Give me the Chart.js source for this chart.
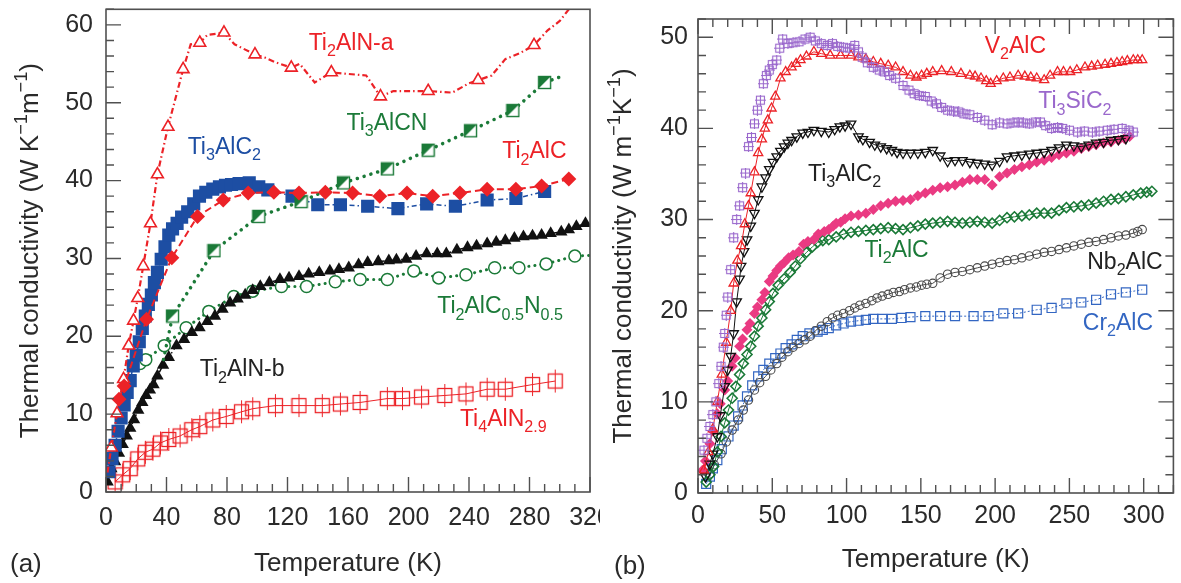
<!DOCTYPE html>
<html><head><meta charset="utf-8">
<script src="https://cdn.jsdelivr.net/npm/chart.js@4.4.0/dist/chart.umd.min.js"></script>
<style>
html,body{margin:0;padding:0;background:#fff;width:1181px;height:583px;overflow:hidden}
#ca{position:absolute;left:0;top:0}
#cb{position:absolute;left:600px;top:0}
</style></head><body>
<canvas id="ca" width="600" height="583"></canvas>
<canvas id="cb" width="581" height="583"></canvas>
<script>
// ---------- tick labels ----------
const aXTicks = [0,40,80,120,160,200,240,280,320];
const aYTicks = [0,10,20,30,40,50,60];
const bXTicks = [0,50,100,150,200,250,300];
const bYTicks = [0,10,20,30,40,50];

// ---------- panel (a) data: T (K), k (W/K/m) ----------
const aTi2AlNaT = [3.5,7.3,11.6,15,18.2,21,24.6,29.4,34,41,51,62,78,98.5,122.5,149,181.5,213,246,283];
const aTi2AlNaK = [5.7,10.1,14.5,18.8,22,24.9,29,34.5,40.8,46.9,54.3,57.7,59,56.2,54.5,53.9,50.8,51.5,52.9,57.4];
const aTi2AlNaLineT = [1,3.5,7.3,11.6,15,18.2,21,24.6,29.4,34,41,51,56,62,67,78,85,98.5,105,112,122.5,128,138,149,160,172,181.5,190,213,229,240,246,255,264,274,283,292,300,306];
const aTi2AlNaLineK = [2.5,5.7,10.1,14.5,18.8,22,24.9,29,34.5,40.8,46.9,54.3,57.5,57.7,58.7,59,57.5,56.2,55.8,55.2,54.5,55,52.6,53.9,53.7,53.5,50.8,51.5,51.5,51.3,52.5,52.9,53.5,55.6,56.4,57.4,59.3,60.5,62];

const aTi3AlC2T = [2,4,6,8,10,12,14,16,18,20,22,24,26,28,30,32,34,36.5,39,41.5,44,47,50,54,58,61.8,66,70.6,75,79,83,88,94.7,101,107,123,140,155,173,193,212,231,252,271,290];
const aTi3AlC2K = [2.6,4.3,6,7.8,9.5,11.2,12.8,14.3,16.2,17.6,19.3,21,22.6,24.1,25.3,26.9,28.2,29.9,31.5,33,33.8,34.5,35.3,36,37,38,38.5,38.9,39.2,39.4,39.5,39.6,39.7,39.2,38.8,38,36.9,36.9,36.7,36.4,37,36.7,37.5,37.7,38.6];

const aTi2AlCT = [8.6,12,26.8,43.5,60.5,77.5,94,111,127.6,145,163,181,199,216,234,252,271,288,306];
const aTi2AlCK = [11.9,13.6,22.2,30.1,35.4,37.5,38.4,38.5,38.4,38.5,38.4,38,38.4,38,38.4,38.9,38.9,39.3,40.2];

const aTi3AlCNT = [44,71.4,101,129,157,186,213,241,269,290];
const aTi3AlCNK = [22.6,31,35.4,37.3,39.7,41.5,43.9,46.4,49,52.6];
const aTi3AlCNLineT = [38,44,71.4,101,129,157,186,213,241,269,290,303];
const aTi3AlCNLineK = [17,22.6,31,35.4,37.3,39.7,41.5,43.9,46.4,49,52.6,53.5];

const aTi2AlCNT = [22.5,26.3,38.5,53,68,84.5,97,116,132.6,151.6,168,186,203.5,220,238,257,273,291,310];
const aTi2AlCNK = [16.5,17,18.8,21.1,23.2,25.1,25.8,26.4,26.4,27,27.3,27.3,28.4,27.5,27.9,28.8,28.8,29.3,30.3];
const aTi2AlCNLineT = [20,22.5,26.3,38.5,53,68,84.5,97,116,132.6,151.6,168,186,203.5,220,238,257,273,291,310,320];
const aTi2AlCNLineK = [16,16.5,17,18.8,21.1,23.2,25.1,25.8,26.4,26.4,27,27.3,27.3,28.4,27.5,27.9,28.8,28.8,29.3,30.3,30.4];

const aTi2AlNbT = [1,3.5,6,8.5,11,13.7,16,18.5,21.3,24,26.5,29,31.4,34,37.7,41.5,46.6,51.6,56.7,61.8,67,72,77,82,87,92,97,102,108,115,121,127.6,134,141,148,154,160.5,167,173,180,187,192,198.5,205,212,219,225,232,239,245,252,258,264,270,276,282,288,294,301,306,311,317];
const aTi2AlNbK = [1.3,3,3.9,5,6.1,7.2,8.2,9.3,10.5,11.5,12.4,13.1,13.8,14.9,16.3,17.3,18.8,19.6,20.5,21.1,21.9,22.6,23.5,24.3,24.8,25.3,25.9,26.4,26.9,27.3,27.5,27.7,28,28.2,28.4,28.6,28.8,29.2,29.5,29.6,29.7,29.8,29.9,30.3,30.6,30.6,30.6,31.1,31.4,31.6,31.9,32.1,32.3,32.6,32.8,32.9,33,33.2,33.4,33.7,34.1,34.5];

const aTi4AlNT = [6,11,16,21,26,31,36,41.5,49,56.7,62,70.6,79.5,89.6,97,112,127.6,143,155,168,186,196,208.6,224,238,252,264,282,297];
const aTi4AlNK = [1.3,2.2,3,4.25,5.1,5.5,6.3,6.75,7.2,8,8.4,9.25,9.7,10.3,10.7,11.1,11.1,11.1,11.3,11.5,12,12,12.2,12.4,12.6,13.2,13.2,13.8,14.25];

// ---------- panel (b) data ----------
const bV2AlCT = [4,7,10,13,16,19,22,24,26.5,29,31.5,34,35.5,38,40.5,43,45,47,49.5,52,55.5,59,63,66,69,73,78,83,89,96,103,108,113,118,123,128,133,138,143,147,150.5,154,158,164,170.5,177,183,186.5,190.5,194,197,201,205.5,210,215.5,220,224,228,233,237,242,246,250.5,255,260.5,265,269,274,278,282,285.5,289,293,296,299];
const bV2AlCK = [2.5,4.5,7,10,13,16.5,20,23,25.5,27.1,29.5,31.5,32.9,35.2,37.3,38.8,40,40.9,42.2,43.5,45.5,46.2,46.7,47.1,47.5,47.9,48.4,48.2,48,48,48,47.8,47.6,47.3,47.1,46.9,46.7,46.2,45.8,45.6,45.8,46,46.2,46.3,46.2,46,45.8,45.7,45.5,45.2,44.9,45.2,45.5,45.6,45.8,45.7,45.6,45.5,45.3,45.8,46.2,46.2,46.2,46.4,46.7,46.8,46.9,47,47.1,47.2,47.3,47.4,47.5,47.5,47.5];

const bTi3SiC2T = [4,6,8,10,12,14,15.5,17,18,19,20,22,24,26,28,30,32,34,36,38,40,42,44,46,48,50,53,55,57,60.5,64,68,72,75.5,79,83,87,90.5,94,98,102,105.5,108,110.5,114,118,122,125.5,129,133,138,142,145.5,149,153,157,160.5,164,168,172,175.5,179,183,188,193,198,203,208,212,215.5,219,223,227,230.5,234,238,242,245.5,250,255.5,260,265.5,270,275.5,280,285.5,290,293];
const bTi3SiC2K = [4.7,6,7.3,8.6,10,12,13.9,16,17.5,19.5,21.5,24.5,28,30,31.5,33.5,35.1,38,39,40.5,42,43.1,44.9,45.8,46.4,47,47.5,48.8,49.8,49.3,49.4,49.5,49.8,50,49.6,49.3,49.1,49.3,49,48.9,48.8,49.1,48.4,47.8,47.2,46.7,46.4,46.2,45.8,45.5,44.7,44.2,43.8,43.6,43.5,43,42.7,42.3,42,41.9,41.8,41.6,41.5,41.2,40.9,40.4,40.6,40.5,40.6,40.7,40.6,40.5,40.7,40.7,40.3,40,40.1,40,39.8,39.6,39.7,39.6,39.7,39.8,39.9,40,39.8,39.6];

const bTi3AlC2T = [5,8,10,13,15,18,20,22,24,26,28,29,31,33,35.5,38,40.5,43,45.5,48,50.5,53,55.5,58,60.5,63,66.5,70.5,74,78,83,88,92,95.5,99,103,108,111,115.5,119,123,127,130.5,134,138,143,148,153,158,163,168,173,178,183,188,193,198,203,208,213,218,223,228,233,238,243,248,253,258,263,268,273,278,283,288];
const bTi3AlC2K = [1.8,3.2,4.3,6.2,8.5,11.7,13.5,15,17.5,21,23.5,24.9,26.5,27.8,29.3,30.7,32.2,33.6,34.6,35.5,36.3,36.9,37.5,38,38.4,38.7,39.1,39.5,39.6,39.8,39.7,39.6,39.9,40.2,40.3,40.5,39.1,38.8,38.5,38.2,38,37.8,37.6,37.4,37.3,37.3,37.3,37.4,37.6,37,36.4,36.5,36.5,36.3,36.2,36.1,36,36.4,36.9,37,37.1,37.2,37.3,37.4,37.6,37.9,38.2,38.1,38,38.2,38.4,38.5,38.7,38.8,38.9];

const bPinkT = [3,5,8,10,13,15,18,20,23,25,28,30,33,35,38,40,43,45,48,50.5,53,55.5,58,61,64,68,71,74,78,81,85,88,91,93,96,99,103,108,113,118,123,128,133,138,143,148,153,158,163,168,173,178,183,188,193,198,203,208,213,218,223,228,233,238,243,248,253,258,263,268,273,278,283,287,290.5];
const bPinkK = [2.5,3.5,5.4,6.8,8.7,9.8,11.3,12.3,13.9,14.8,16.1,16.9,17.9,18.6,19.7,20.4,21.2,22,23.2,23.8,24.4,24.9,25.3,25.8,26.1,26.5,27.3,27.6,27.8,28.4,28.7,28.9,29.3,29.6,29.7,30.1,30.4,30.5,30.7,31.1,31.5,31.8,32,32.1,32.2,32.6,32.9,33.2,33.5,33.6,33.8,34.1,34.4,34.4,34.4,33.8,34.7,35.1,35.5,35.8,36,36.3,36.5,36.8,37.1,37.3,37.5,37.8,38,38.2,38.4,38.5,38.7,38.9,39.1];

const bTi2AlCT = [5.5,8,10.5,13,15.5,18,20.5,23,25.5,28,30.5,33,35.5,38,40.5,43,45.5,48,50.5,54,58,62,65.5,69,73,77,80.5,84,88,93,98,103,108,113,118,123,128,133,138,143,148,153,158,163,168,173,178,183,188,193,198,203,208,213,218,223,228,233,238,243,248,253,258,263,268,273,278,283,288,293,298,302,305.5];
const bTi2AlCK = [1.2,2,2.9,4.5,6.2,7.7,9.1,10.4,11.7,13,14.2,15.2,16.1,17.2,18.3,19.2,20.1,21,21.9,22.8,23.5,24.2,24.9,25.7,26.4,27,27.5,27.7,27.8,28.1,28.4,28.6,28.7,28.8,28.9,29,29.1,29,28.9,29.1,29.3,29.5,29.6,29.7,29.8,29.7,29.6,29.7,29.8,29.7,29.6,29.9,30.2,30.3,30.4,30.5,30.7,30.7,30.7,31,31.3,31.4,31.5,31.6,31.8,32,32.2,32.3,32.5,32.7,32.9,33,33.1];

const bNb2AlCT = [8,11,15.5,19,23,27,30.5,34,38,41.5,45.5,49,53,56.5,60.5,64,68,72,75.5,79,83,87,90.5,94,98,102,105.5,109,113,117,120.5,124,128,131.5,135.5,139,143,147,150.5,154,158,163,168,173,178,183,188,193,198,203,208,213,218,223,228,233,238,243,248,253,258,263,268,273,278,283,288,293,296,299];
const bNb2AlCK = [2.1,3.1,4.3,5.6,6.9,8,9.1,10.2,11.3,12.1,12.8,13.5,14.2,14.9,15.5,16,16.4,16.8,17.2,17.8,18.3,18.8,19.2,19.5,19.7,20,20.3,20.6,20.8,21.1,21.4,21.6,21.8,22,22.1,22.3,22.5,22.6,22.8,22.9,23,23.6,24,24.2,24.3,24.5,24.7,24.9,25.1,25.3,25.5,25.6,25.8,26,26.2,26.4,26.5,26.7,26.9,27.1,27.3,27.5,27.6,27.8,28,28.2,28.3,28.5,28.7,28.9];

const bCr2AlCT = [5.5,8,10,13,16,20.5,24,27,30,33,36.5,40.5,44,48,52,55.5,59,63,66.5,70.5,75,80.5,84,88,93,98,103,108,113,118,124,130.5,137,143,153,163,173,185.5,195.5,205.5,215.5,228,238,248,258,268,278,288,299];
const bCr2AlCK = [1,1.8,2.7,3.6,4.8,6.2,7.4,8.4,9.6,10.6,11.8,12.8,13.5,14.2,14.8,15.3,15.9,16.3,16.8,17.2,17.5,17.7,17.9,18.1,18.4,18.6,18.8,18.9,19,19.1,19.1,19.1,19.2,19.3,19.4,19.4,19.4,19.4,19.4,19.7,19.7,20.1,20.3,20.8,20.9,21.2,21.8,22,22.3];

// ---------- styles ----------
const FONT = '"Liberation Sans", Arial, Helvetica, sans-serif';
const TEXT = '#2a2a2a';
const AXIS = '#505050';
const RED = '#ec2227';
const BLUE_A = '#1d4ea3';
const GREEN = '#1b7a38';
const PURPLE = '#9a68cc';
const PINK = '#ea3a82';
const BLUE_B = '#3366c2';
const GRAY = '#4a4a4a';

const pts = (T, K) => T.map((t, i) => ({x: t, y: K[i]}));

function mk(w, h, fn) { const c = document.createElement('canvas'); c.width = w; c.height = h; fn(c.getContext('2d')); return c; }
const halfSq = mk(15, 15, g => {
  g.fillStyle = '#fff'; g.fillRect(1, 1, 13, 13);
  g.fillStyle = GREEN; g.beginPath(); g.moveTo(1, 1); g.lineTo(14, 1); g.lineTo(1, 14); g.closePath(); g.fill();
  g.strokeStyle = GREEN; g.lineWidth = 1.4; g.strokeRect(1.5, 1.5, 12, 12);
});
const errSq = mk(17, 25, g => {
  g.strokeStyle = RED; g.lineWidth = 1.3; g.strokeRect(1.5, 5.5, 14, 14);
  g.lineWidth = 1; g.beginPath(); g.moveTo(8.5, 1); g.lineTo(8.5, 24); g.stroke();
});
const crossSq = mk(11, 11, g => {
  g.strokeStyle = PURPLE; g.lineWidth = 1.1; g.strokeRect(1.5, 1.5, 8, 8);
  g.beginPath(); g.moveTo(5.5, 0); g.lineTo(5.5, 11); g.moveTo(0, 5.5); g.lineTo(11, 5.5); g.stroke();
});

function drawRich(ctx, x, y, parts, size, color, align) {
  const sub = size * 0.7;
  let w = 0;
  const segs = parts.map(p => {
    const t = p[0], k = p[1] || '';
    const fs = k ? sub : size;
    ctx.font = fs + 'px ' + FONT;
    const mw = ctx.measureText(t).width; w += mw;
    return {t, k, fs, mw};
  });
  let cx = align === 'center' ? x - w / 2 : x;
  const base = y + size * 0.358;
  ctx.fillStyle = color; ctx.textBaseline = 'alphabetic'; ctx.textAlign = 'left';
  for (const s of segs) {
    ctx.font = s.fs + 'px ' + FONT;
    let by = base;
    if (s.k === 'sub') by = base + size * 0.27;
    if (s.k === 'sup') by = base - size * 0.42;
    ctx.fillText(s.t, cx, by);
    cx += s.mw;
  }
}

function makeDeco(cfg) {
  return {
    id: 'deco',
    afterDraw(chart) {
      const {ctx, chartArea: ca, scales: {x, y}} = chart;
      ctx.save();
      ctx.strokeStyle = AXIS; ctx.lineWidth = 1.6;
      ctx.strokeRect(ca.left, ca.top, ca.right - ca.left, ca.bottom - ca.top);
      ctx.lineWidth = 1.4; ctx.beginPath();
      const eps = 1e-6;
      for (let v = x.min; v <= x.max + eps; v += cfg.xMinor) {
        const px = x.getPixelForValue(v);
        const L = Math.abs(v / cfg.xMajor - Math.round(v / cfg.xMajor)) < eps ? 15 : 8;
        ctx.moveTo(px, ca.bottom); ctx.lineTo(px, ca.bottom - L);
        if (cfg.mirror) { ctx.moveTo(px, ca.top); ctx.lineTo(px, ca.top + L); }
      }
      for (let v = y.min; v <= y.max + eps; v += cfg.yMinor) {
        const py = y.getPixelForValue(v);
        const L = Math.abs(v / cfg.yMajor - Math.round(v / cfg.yMajor)) < eps ? 15 : 8;
        ctx.moveTo(ca.left, py); ctx.lineTo(ca.left + L, py);
        if (cfg.mirror) { ctx.moveTo(ca.right, py); ctx.lineTo(ca.right - L, py); }
      }
      ctx.stroke();
      for (const lb of cfg.labels) {
        drawRich(ctx, x.getPixelForValue(lb.T), y.getPixelForValue(lb.K), lb.parts, cfg.labelSize, lb.color, 'left');
      }
      drawRich(ctx, (ca.left + ca.right) / 2, cfg.xTitleY, [['Temperature (K)']], cfg.titleSize, TEXT, 'center');
      ctx.save();
      ctx.translate(cfg.yTitleX, (ca.top + ca.bottom) / 2);
      ctx.rotate(-Math.PI / 2);
      drawRich(ctx, 0, 0, cfg.yTitle, cfg.titleSize, TEXT, 'center');
      ctx.restore();
      drawRich(ctx, cfg.panelX, cfg.panelY, [[cfg.panel]], cfg.titleSize, TEXT, 'left');
      ctx.restore();
    }
  };
}

function scalesFor(xTicks, yTicks, xmax, ymax, yW, xH, yPad, xPad) {
  const tickFont = {family: FONT, size: 25};
  return {
    x: {type: 'linear', min: 0, max: xmax,
      afterBuildTicks: s => { s.ticks = xTicks.map(v => ({value: v})); },
      ticks: {font: tickFont, color: TEXT, padding: xPad, autoSkip: false, maxRotation: 0},
      grid: {display: false, drawTicks: false}, border: {display: false},
      afterFit: s => { s.height = xH; s.paddingLeft = 0; s.paddingRight = 0; }},
    y: {type: 'linear', min: 0, max: ymax,
      afterBuildTicks: s => { s.ticks = yTicks.map(v => ({value: v})); },
      ticks: {font: tickFont, color: TEXT, padding: yPad},
      grid: {display: false, drawTicks: false}, border: {display: false},
      afterFit: s => { s.width = yW; s.paddingTop = 0; s.paddingBottom = 0; }}
  };
}

const common = {animation: false, responsive: false, devicePixelRatio: 1,
  plugins: {legend: {display: false}, tooltip: {enabled: false}}, events: []};

// ---------- chart (a) ----------
new Chart(document.getElementById('ca'), {
  type: 'scatter',
  data: {datasets: [
    {data: pts(aTi2AlCT, aTi2AlCK), showLine: true, borderColor: RED, borderWidth: 2, borderDash: [7, 4],
      pointStyle: 'rectRot', pointRadius: 7.5, pointBackgroundColor: RED, pointBorderColor: RED, pointBorderWidth: 0},
    {data: pts(aTi2AlNaT, aTi2AlNaK), showLine: false, pointStyle: 'triangle', pointRadius: 6.8,
      pointBackgroundColor: '#fff', pointBorderColor: RED, pointBorderWidth: 1.6},
    {data: pts(aTi2AlNaLineT, aTi2AlNaLineK), showLine: true, pointRadius: 0, borderColor: RED, borderWidth: 2.2,
      borderDash: [6, 3, 1.5, 3]},
    {data: pts(aTi3AlCNT, aTi3AlCNK), showLine: false, pointStyle: halfSq, pointRadius: 7},
    {data: pts(aTi3AlCNLineT, aTi3AlCNLineK), showLine: true, pointRadius: 0, borderColor: GREEN, borderWidth: 3.5,
      borderDash: [0.1, 7], borderCapStyle: 'round'},
    {data: pts(aTi3AlC2T, aTi3AlC2K), showLine: true, borderColor: BLUE_A, borderWidth: 1.5, borderDash: [5, 3, 1.5, 3],
      pointStyle: 'rect', pointRadius: 9.3, pointBackgroundColor: BLUE_A, pointBorderColor: BLUE_A, pointBorderWidth: 0},
    {data: pts(aTi2AlNbT, aTi2AlNbK), showLine: true, borderColor: '#111', borderWidth: 1.5, borderDash: [6, 3, 1.5, 3],
      pointStyle: 'triangle', pointRadius: 7.2, pointBackgroundColor: '#111', pointBorderColor: '#111', pointBorderWidth: 0},
    {data: pts(aTi2AlCNT, aTi2AlCNK), showLine: false, pointStyle: 'circle', pointRadius: 6,
      pointBackgroundColor: '#fff', pointBorderColor: GREEN, pointBorderWidth: 1.5},
    {data: pts(aTi2AlCNLineT, aTi2AlCNLineK), showLine: true, pointRadius: 0, borderColor: GREEN, borderWidth: 3,
      borderDash: [0.1, 6], borderCapStyle: 'round'},
    {data: pts(aTi4AlNT, aTi4AlNK), showLine: true, borderColor: RED, borderWidth: 1, pointStyle: errSq, pointRadius: 8}
  ]},
  options: Object.assign({}, common, {
    layout: {padding: {left: 0, right: 10, top: 8, bottom: 0}},
    scales: scalesFor(aXTicks, aYTicks, 320, 62, 106, 91, 13, 11)
  }),
  plugins: [makeDeco({
    xMinor: 10, xMajor: 40, yMinor: 2, yMajor: 10, mirror: false,
    labelSize: 23, titleSize: 26, xTitleY: 562, yTitleX: 29, panel: '(a)', panelX: 10, panelY: 563,
    yTitle: [['Thermal conductivity (W K'], ['\u22121', 'sup'], ['m'], ['\u22121', 'sup'], [')']],
    labels: [
      {parts: [['Ti'], ['2', 'sub'], ['AlN-a']], T: 134, K: 57.8, color: RED},
      {parts: [['Ti'], ['3', 'sub'], ['AlC'], ['2', 'sub']], T: 54, K: 44.5, color: BLUE_A},
      {parts: [['Ti'], ['3', 'sub'], ['AlCN']], T: 159, K: 47.6, color: GREEN},
      {parts: [['Ti'], ['2', 'sub'], ['AlC']], T: 262, K: 43.9, color: RED},
      {parts: [['Ti'], ['2', 'sub'], ['AlC'], ['0.5', 'sub'], ['N'], ['0.5', 'sub']], T: 219, K: 24, color: GREEN},
      {parts: [['Ti'], ['2', 'sub'], ['AlN-b']], T: 62, K: 15.9, color: '#222'},
      {parts: [['Ti'], ['4', 'sub'], ['AlN'], ['2.9', 'sub']], T: 234, K: 9.5, color: RED}
    ]
  })]
});

// ---------- chart (b) ----------
new Chart(document.getElementById('cb'), {
  type: 'scatter',
  data: {datasets: [
    {data: pts(bTi3SiC2T, bTi3SiC2K), showLine: false, pointStyle: crossSq, pointRadius: 5},
    {data: pts(bV2AlCT, bV2AlCK), showLine: true, borderColor: RED, borderWidth: 1, pointStyle: 'triangle', pointRadius: 5.3,
      pointBackgroundColor: 'rgba(0,0,0,0)', pointBorderColor: RED, pointBorderWidth: 1.3},
    {data: pts(bTi3AlC2T, bTi3AlC2K), showLine: true, borderColor: '#111', borderWidth: 1, pointStyle: 'triangle', pointRotation: 180,
      pointRadius: 5.5, pointBackgroundColor: 'rgba(0,0,0,0)', pointBorderColor: '#111', pointBorderWidth: 1.3},
    {data: pts(bPinkT, bPinkK), showLine: false, pointStyle: 'rectRot', pointRadius: 5.5,
      pointBackgroundColor: PINK, pointBorderColor: PINK, pointBorderWidth: 0},
    {data: pts(bTi2AlCT, bTi2AlCK), showLine: true, borderColor: GREEN, borderWidth: 1, pointStyle: 'rectRot', pointRadius: 5,
      pointBackgroundColor: 'rgba(0,0,0,0)', pointBorderColor: GREEN, pointBorderWidth: 1.6},
    {data: pts(bNb2AlCT, bNb2AlCK), showLine: true, borderColor: GRAY, borderWidth: 1, pointStyle: 'circle', pointRadius: 4.2,
      pointBackgroundColor: 'rgba(0,0,0,0)', pointBorderColor: GRAY, pointBorderWidth: 1.1},
    {data: pts(bCr2AlCT, bCr2AlCK), showLine: true, borderColor: BLUE_B, borderWidth: 1, borderDash: [2, 2], pointStyle: 'rect',
      pointRadius: 6.4, pointBackgroundColor: 'rgba(0,0,0,0)', pointBorderColor: BLUE_B, pointBorderWidth: 1.2}
  ]},
  options: Object.assign({}, common, {
    layout: {padding: {left: 0, right: 6, top: 19, bottom: 0}},
    scales: scalesFor(bXTicks, bYTicks, 320, 52, 98, 90, 10, 8)
  }),
  plugins: [makeDeco({
    xMinor: 10, xMajor: 50, yMinor: 2, yMajor: 10, mirror: true,
    labelSize: 23, titleSize: 26, xTitleY: 558, yTitleX: 22, panel: '(b)', panelX: 14, panelY: 565,
    yTitle: [['Thermal conductivity (W m'], ['\u22121', 'sup'], ['K'], ['\u22121', 'sup'], [')']],
    labels: [
      {parts: [['V'], ['2', 'sub'], ['AlC']], T: 193, K: 49.2, color: RED},
      {parts: [['Ti'], ['3', 'sub'], ['SiC'], ['2', 'sub']], T: 229, K: 43.1, color: PURPLE},
      {parts: [['Ti'], ['3', 'sub'], ['AlC'], ['2', 'sub']], T: 74, K: 35.1, color: '#222'},
      {parts: [['Ti'], ['2', 'sub'], ['AlC']], T: 112, K: 26.8, color: GREEN},
      {parts: [['Nb'], ['2', 'sub'], ['AlC']], T: 262, K: 25.5, color: '#222'},
      {parts: [['Cr'], ['2', 'sub'], ['AlC']], T: 259, K: 18.8, color: BLUE_B}
    ]
  })]
});
</script>
</body></html>
